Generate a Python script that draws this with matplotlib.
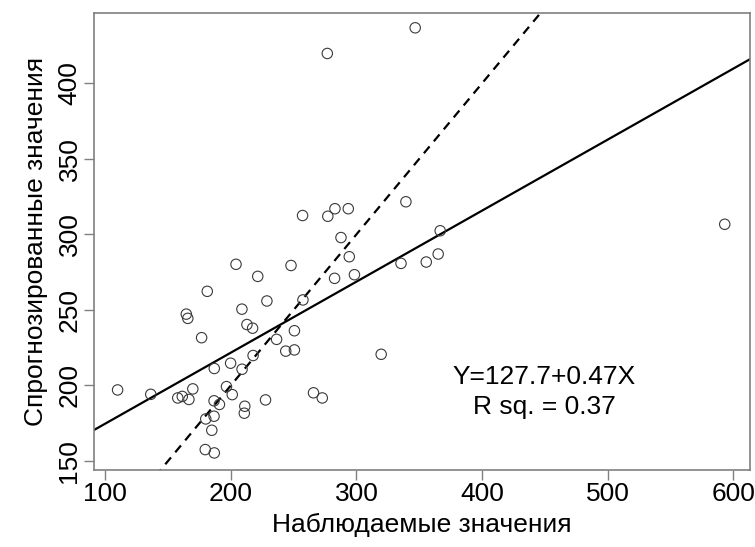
import matplotlib
matplotlib.use("Agg")
import matplotlib.pyplot as plt
import numpy as np

plt.rcParams['font.family'] = ['Liberation Sans', 'DejaVu Sans']

# наблюдаемые (X) и спрогнозированные (Y) значения
observed = [109.8, 136.2, 157.7, 161.3, 166.6, 169.7, 164.5, 165.7, 181.2, 176.7,
            204.1, 221.4, 228.7, 208.8, 212.8, 217.3, 186.8, 199.8, 208.9, 217.7,
            196.5, 201.1, 186.6, 190.9, 211.1, 210.7, 227.6, 180.0, 186.6, 184.8,
            179.6, 186.8, 247.9, 257.4, 250.6, 236.4, 243.7, 250.6, 265.8, 272.8,
            319.7, 287.7, 294.3, 282.6, 298.4, 335.5, 355.6, 365.1, 366.7, 257.1,
            277.2, 282.9, 293.5, 339.4, 276.8, 346.8, 593.3]
predicted = [197.0, 194.1, 191.7, 192.7, 190.7, 197.7, 247.2, 244.4, 262.3, 231.6,
             280.2, 272.2, 255.9, 250.5, 240.3, 237.9, 211.2, 214.7, 210.7, 219.8,
             199.2, 193.9, 189.8, 187.4, 186.2, 181.6, 190.4, 177.8, 179.6, 170.3,
             157.5, 155.3, 279.4, 256.6, 236.2, 230.5, 222.7, 223.5, 195.1, 191.7,
             220.6, 297.9, 285.2, 270.9, 273.3, 280.8, 281.7, 287.0, 302.4, 312.5,
             312.0, 317.0, 317.0, 321.6, 419.8, 436.8, 306.7]

intercept = 127.7
slope = 0.47
r_sq = 0.37

x_ticks = [100, 200, 300, 400, 500, 600]
y_ticks = [150, 200, 250, 300, 350, 400]

fig = plt.figure(figsize=(7.55, 5.47), dpi=100)
ax = fig.add_axes([0.1245, 0.1408, 0.869, 0.836])

ax.scatter(observed, predicted, s=56, facecolors='none', edgecolors='#3a3a3a',
           linewidths=0.8, zorder=3)

ax.set_xlim(91, 613.5)
ax.set_ylim(144, 446.8)

xs = np.array(ax.get_xlim())
ax.plot(xs, intercept + slope * xs, color='black', lw=1.6, zorder=2)
ax.plot(xs, xs, color='black', lw=1.6, linestyle=(0, (4, 3)), zorder=2)

ax.text(449.5, 205.6, f'Y={intercept}+{slope}X', fontsize=19, ha='center', va='center')
ax.text(449.5, 185.7, f'R sq. = {r_sq}', fontsize=19, ha='center', va='center')

ax.set_xticks(x_ticks)
ax.set_yticks(y_ticks)
ax.tick_params(axis='both', labelsize=19, length=7, width=1, color='#808080', pad=2)
plt.setp(ax.get_yticklabels(), rotation=90, va='center')
for sp in ax.spines.values():
    sp.set_color('#808080')
    sp.set_linewidth(1.2)

ax.set_xlabel('Наблюдаемые значения', fontsize=19, labelpad=5)
ax.set_ylabel('Спрогнозированные значения', fontsize=19, labelpad=7)

fig.savefig('out.png', dpi=100)
